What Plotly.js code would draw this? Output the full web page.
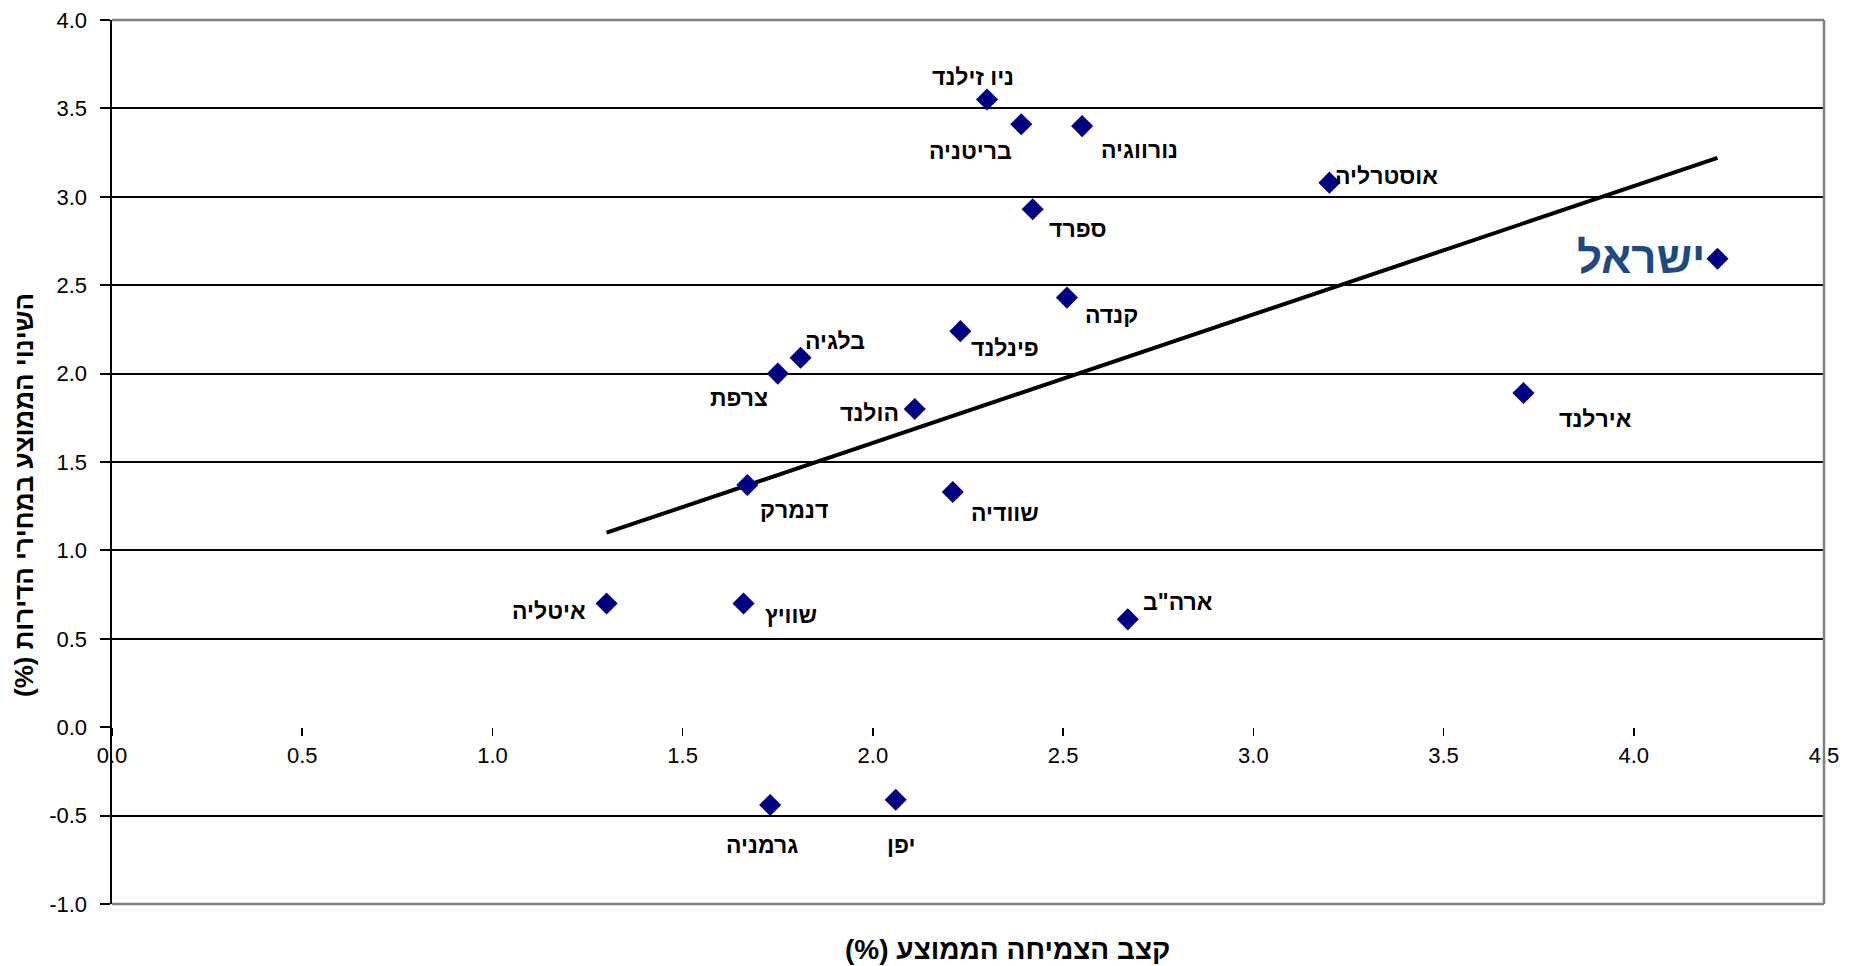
<!DOCTYPE html>
<html>
<head>
<meta charset="utf-8">
<script src="https://cdn.plot.ly/plotly-3.0.1.min.js"></script>
<style>
  html, body { margin: 0; padding: 0; background: #ffffff; }
  #chart { width: 1864px; height: 966px; }
</style>
</head>
<body>
<div id="chart"></div>
<script>
// ---- data ----
const countries = ['ניו זילנד', 'בריטניה', 'נורווגיה', 'אוסטרליה', 'ספרד', 'ישראל', 'קנדה', 'פינלנד', 'בלגיה', 'צרפת', 'הולנד', 'אירלנד', 'דנמרק', 'שוודיה', 'איטליה', 'שוויץ', 'ארה"ב', 'גרמניה', 'יפן'];
const growth = [2.30, 2.39, 2.55, 3.20, 2.42, 4.22, 2.51, 2.23, 1.81, 1.75, 2.11, 3.71, 1.67, 2.21, 1.30, 1.66, 2.67, 1.73, 2.06];
const priceChange = [3.55, 3.41, 3.40, 3.08, 2.93, 2.65, 2.43, 2.24, 2.09, 2.00, 1.80, 1.89, 1.37, 1.33, 0.70, 0.70, 0.61, -0.44, -0.41];

// trend line end points (as drawn)
const trendX = [1.30, 4.22];
const trendY = [1.10, 3.22];

// axis ticks
const yTickVals = [-1.0, -0.5, 0.0, 0.5, 1.0, 1.5, 2.0, 2.5, 3.0, 3.5, 4.0];
const yTickText = ['-1.0', '-0.5', '0.0', '0.5', '1.0', '1.5', '2.0', '2.5', '3.0', '3.5', '4.0'];
const xTickVals = [0.0, 0.5, 1.0, 1.5, 2.0, 2.5, 3.0, 3.5, 4.0, 4.5];
const xTickText = ['0.0', '0.5', '1.0', '1.5', '2.0', '2.5', '3.0', '3.5', '4.0', '4.5'];

const xTitle = 'קצב הצמיחה הממוצע (%)\u200F';
const yTitle = 'השינוי הממוצע במחירי הדירות (%)\u200F';
const highlight = 'ישראל';

// ---- label placement (pixel offsets from each point) ----
const labelDx = [-14, -51, 57, 57, 45, -10, 45, 45, 34, -39, -45, 72, 47, 52, -58, 47, 50, -8, 5];
const labelDy = [23, -27, -24, 7, -20, 1, -17, -17, 17, -24, -4, -26, -25, -21, -8, -12, 17, -40, -45];

const FONT = 'Liberation Sans, Arial, sans-serif';

const annotations = countries.map((c, i) => {
  const isHl = c === highlight;
  return {
    x: growth[i], y: priceChange[i], xref: 'x', yref: 'y',
    text: c, showarrow: false,
    xshift: labelDx[i], yshift: labelDy[i],
    xanchor: isHl ? 'right' : 'center', yanchor: 'middle',
    font: isHl ? {family: FONT, size: 44, color: '#1F4A7F', weight: 'bold'}
               : {family: FONT, size: 23, color: '#000000', weight: 'bold'}
  };
});

annotations.push({
  text: xTitle, xref: 'paper', yref: 'paper', x: 0.523, y: -0.052,
  xanchor: 'center', yanchor: 'middle', showarrow: false,
  font: {family: FONT, size: 28, color: '#000000', weight: 'bold'}
});
annotations.push({
  text: yTitle, xref: 'paper', yref: 'paper', x: -0.0514, y: 0.4627,
  xanchor: 'center', yanchor: 'middle', showarrow: false, textangle: -90,
  font: {family: FONT, size: 26, color: '#000000', weight: 'bold'}
});

const traces = [
  {
    x: trendX, y: trendY, type: 'scatter', mode: 'lines',
    line: {color: '#000000', width: 4}, hoverinfo: 'skip', showlegend: false
  },
  {
    x: growth, y: priceChange, text: countries, type: 'scatter', mode: 'markers',
    marker: {symbol: 'diamond', size: 17, color: '#000080', line: {width: 0}},
    showlegend: false
  }
];

const border = {type: 'line', xref: 'paper', yref: 'paper', line: {color: '#808080', width: 2.5}, layer: 'above'};

const layout = {
  width: 1864, height: 966,
  margin: {l: 112, r: 40, t: 20, b: 62, pad: 0},
  paper_bgcolor: '#ffffff', plot_bgcolor: '#ffffff',
  font: {family: FONT, size: 22, color: '#000000'},
  showlegend: false,
  xaxis: {
    range: [0, 4.5], tickmode: 'array', tickvals: xTickVals, ticktext: xTickText,
    showgrid: false, zeroline: false, showline: false,
    anchor: 'free', position: 0.2,
    ticks: 'outside', ticklen: 8, tickwidth: 1.5, tickcolor: '#000000',
    tickfont: {family: FONT, size: 22, color: '#000000'}
  },
  yaxis: {
    range: [-1, 4], tickmode: 'array', tickvals: yTickVals, ticktext: yTickText,
    showgrid: true, gridcolor: '#000000', gridwidth: 2,
    zeroline: true, zerolinecolor: '#ffffff', zerolinewidth: 4,
    showline: true, linecolor: '#000000', linewidth: 2.5,
    ticks: 'outside', ticklen: 10, tickwidth: 2, tickcolor: '#000000',
    ticklabelstandoff: 8,
    tickfont: {family: FONT, size: 22, color: '#000000'}
  },
  shapes: [
    Object.assign({}, border, {x0: 0, x1: 1, y0: 1, y1: 1}),
    Object.assign({}, border, {x0: 1, x1: 1, y0: 0, y1: 1}),
    Object.assign({}, border, {x0: 0, x1: 1, y0: 0, y1: 0})
  ],
  annotations: annotations
};

Plotly.newPlot('chart', traces, layout, {displayModeBar: false, staticPlot: true});
</script>
</body>
</html>
